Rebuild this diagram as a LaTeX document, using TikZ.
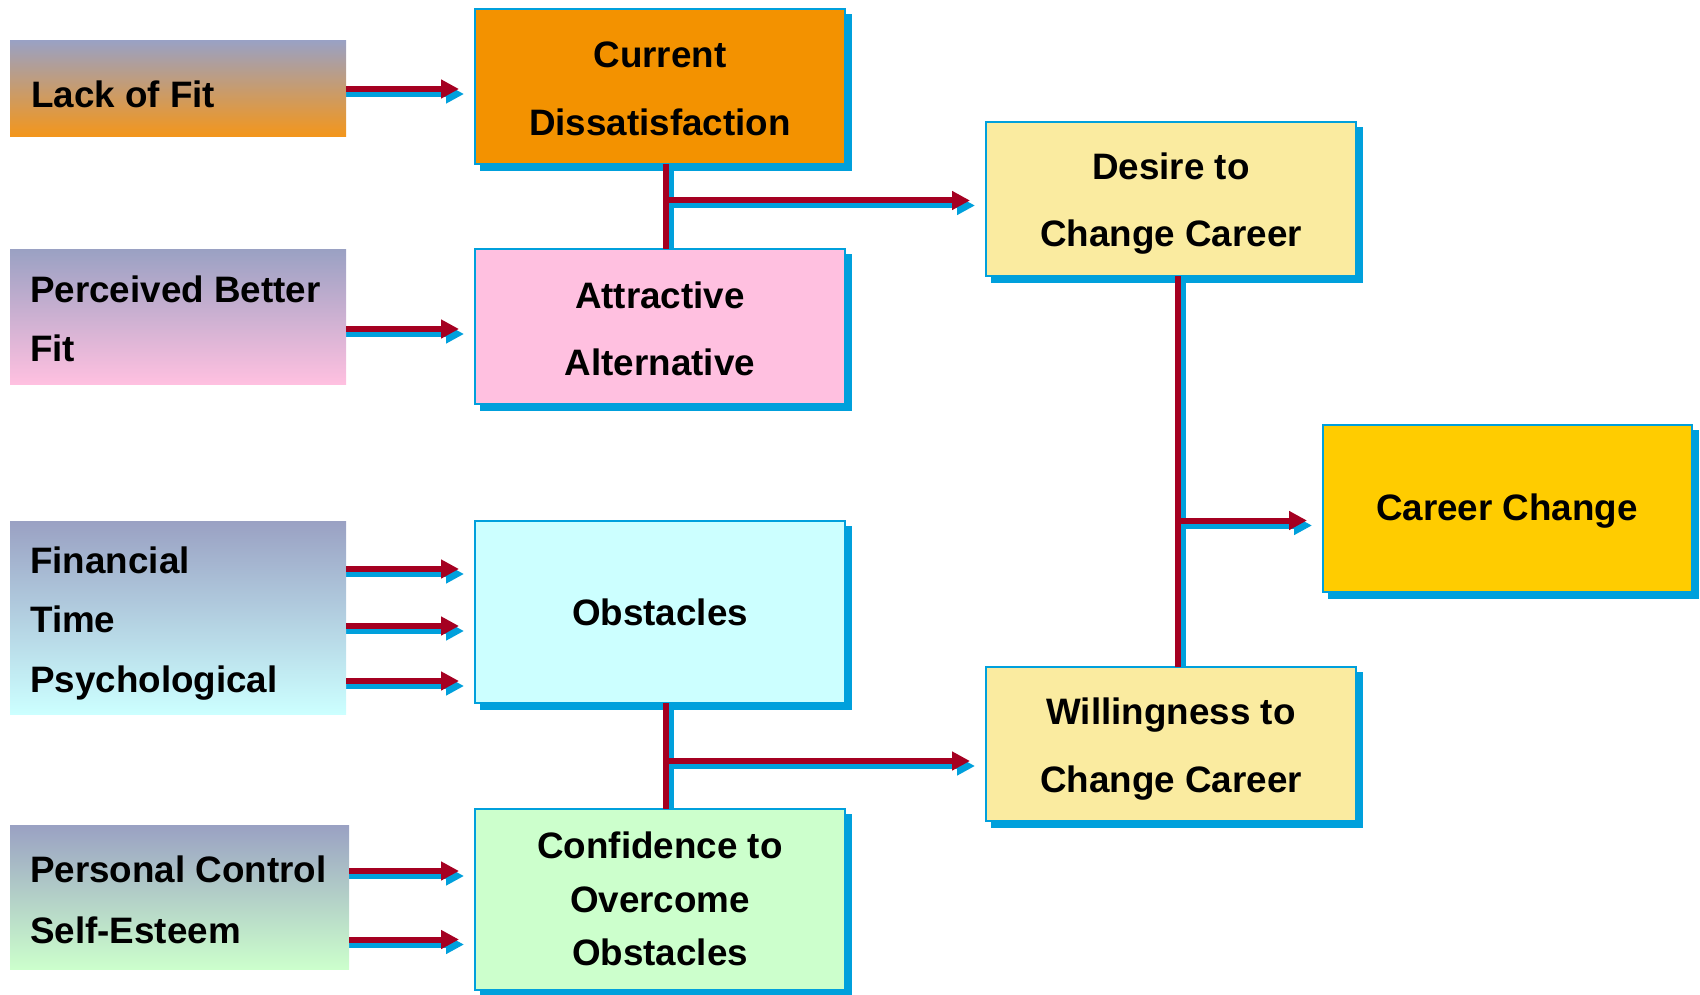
\documentclass[tikz,border=0pt]{standalone}
\usepackage{fontspec}
\setmainfont{Liberation Sans}
\usetikzlibrary{arrows.meta,shadows,calc}

\definecolor{edgeblue}{HTML}{00A0DC}
\definecolor{linkred}{HTML}{A50021}
\definecolor{slate}{HTML}{9AA1C3}
\definecolor{orangeA}{HTML}{F39200}
\definecolor{orangeB}{HTML}{F4961A}
\definecolor{pinkA}{HTML}{FFC0E0}
\definecolor{cyanA}{HTML}{CCFFFF}
\definecolor{greenA}{HTML}{CCFFCC}
\definecolor{creamA}{HTML}{FAEBA0}
\definecolor{goldA}{HTML}{FFCC00}

\pgfdeclarelayer{under}
\pgfsetlayers{under,main}

\newcommand\lblfont{\fontsize{36.8}{40}\selectfont\bfseries}

\tikzset{
  flowbox/.style={draw=edgeblue, line width=2pt, inner sep=0pt, outer sep=0pt,
    minimum width=370pt,
    drop shadow={shadow xshift=6pt, shadow yshift=-6pt, fill=edgeblue,
      draw=edgeblue, line width=2pt, opacity=1}},
  srcbox/.style={inner sep=0pt, outer sep=0pt, shading=axis, top color=slate,
    minimum width=336pt},
  lbl/.style={font=\lblfont, text=black, inner sep=0pt, anchor=base},
  lblw/.style={lbl, anchor=base west},
  redline/.style={draw=linkred, line width=6pt},
  blueline/.style={draw=edgeblue, line width=6pt,
    transform canvas={shift={(5,5)}}},
  headed/.style={-{Triangle[length=18pt,width=18pt]}, shorten >=16pt},
}

\begin{document}
\begin{tikzpicture}[x=1pt,y=-1pt]
\useasboundingbox (0,0) rectangle (1700,995);

% source factors (left column)
\node[srcbox, bottom color=orangeB, minimum height=96pt]  (lof) at (178,89) {};
\node[srcbox, bottom color=pinkA,   minimum height=135pt] (pbf) at (178,316.5) {};
\node[srcbox, bottom color=cyanA,   minimum height=193pt] (fin) at (178,617.5) {};
\node[srcbox, bottom color=greenA,  minimum height=144pt, minimum width=339pt] (pcs) at (179.5,897) {};

% intermediate states (middle column)
\node[flowbox, fill=orangeA, minimum height=155pt] (cd) at (660,86.5) {};
\node[flowbox, fill=pinkA,   minimum height=155pt] (aa) at (660,326.5) {};
\node[flowbox, fill=cyanA,   minimum height=182pt] (ob) at (660,612) {};
\node[flowbox, fill=greenA,  minimum height=181pt] (co) at (660,899.5) {};

% outcomes (right columns)
\node[flowbox, fill=creamA, minimum height=154pt] (dc) at (1171,199) {};
\node[flowbox, fill=creamA, minimum height=154pt] (wc) at (1171,744) {};
\node[flowbox, fill=goldA, minimum height=167pt, minimum width=369pt] (cc) at (1507.5,508.5) {};

% labels
\node[lblw] (tlof)  at (31,108) {Lack of Fit};
\node[lblw] (tpbf1) at (30,302) {Perceived Better};
\node[lblw] (tpbf2) at (30,361) {Fit};
\node[lblw] (tfin1) at (30,573) {Financial};
\node[lblw] (tfin2) at (30,632) {Time};
\node[lblw] (tfin3) at (30,692) {Psychological};
\node[lblw] (tpcs1) at (30,882) {Personal Control};
\node[lblw] (tpcs2) at (30,943) {Self-Esteem};

\node[lbl] (tcd1) at (660,68)  {Current};
\node[lbl] (tcd2) at (660,136) {Dissatisfaction};
\node[lbl] (taa1) at (660,308) {Attractive};
\node[lbl] (taa2) at (660,375) {Alternative};
\node[lbl] (tob)  at (660,625) {Obstacles};
\node[lbl] (tco1) at (660,858) {Confidence to};
\node[lbl] (tco2) at (660,912) {Overcome};
\node[lbl] (tco3) at (660,965) {Obstacles};

\node[lbl] (tdc1) at (1171,180) {Desire to};
\node[lbl] (tdc2) at (1171,247) {Change Career};
\node[lbl] (twc1) at (1171,724) {Willingness to};
\node[lbl] (twc2) at (1171,792) {Change Career};
\node[lbl] (tcc)  at (1507,520) {Career Change};

% connector anchor points
\coordinate (s1) at (lof.east);
\coordinate (s2) at ($(pbf.east)+(0,12.5)$);
\coordinate (s3) at ($(fin.east)+(0,-48.5)$);
\coordinate (s4) at ($(fin.east)+(0,8.5)$);
\coordinate (s5) at ($(fin.east)+(0,63.5)$);
\coordinate (s6) at ($(pcs.east)+(0,-26)$);
\coordinate (s7) at ($(pcs.east)+(0,42.5)$);

\coordinate (v1) at ($(cd.south)+(6,0)$);
\coordinate (v2) at ($(ob.south)+(6,0)$);
\coordinate (v3) at ($(dc.south)+(7,0)$);
\coordinate (j1) at (666,200.5);
\coordinate (j2) at (666,761);
\coordinate (j3) at (1178,520.5);

% blue offset shading of the connectors
\begin{pgfonlayer}{under}
  \foreach \s/\t in {s1/cd, s2/aa, s3/ob, s4/ob, s5/ob, s6/co, s7/co}
    \draw[blueline, headed, shorten <=-5pt] (\s) -- (\s -| \t.west);
  \draw[blueline] (v1) -- (v1 |- aa.north);
  \draw[blueline] (v2) -- (v2 |- co.north);
  \draw[blueline] (v3) -- (v3 |- wc.north);
  \draw[blueline, headed] (j1) -- (j1 -| dc.west);
  \draw[blueline, headed] (j2) -- (j2 -| wc.west);
  \draw[blueline, headed] (j3) -- (j3 -| cc.west);
\end{pgfonlayer}

% red connectors
\foreach \s/\t in {s1/cd, s2/aa, s3/ob, s4/ob, s5/ob, s6/co, s7/co}
  \draw[redline, headed] (\s) -- (\s -| \t.west);
\draw[redline] (v1) -- (v1 |- aa.north);
\draw[redline] (v2) -- (v2 |- co.north);
\draw[redline] (v3) -- (v3 |- wc.north);
\draw[redline, headed] (j1) -- (j1 -| dc.west);
\draw[redline, headed] (j2) -- (j2 -| wc.west);
\draw[redline, headed] (j3) -- (j3 -| cc.west);
\end{tikzpicture}
\end{document}
